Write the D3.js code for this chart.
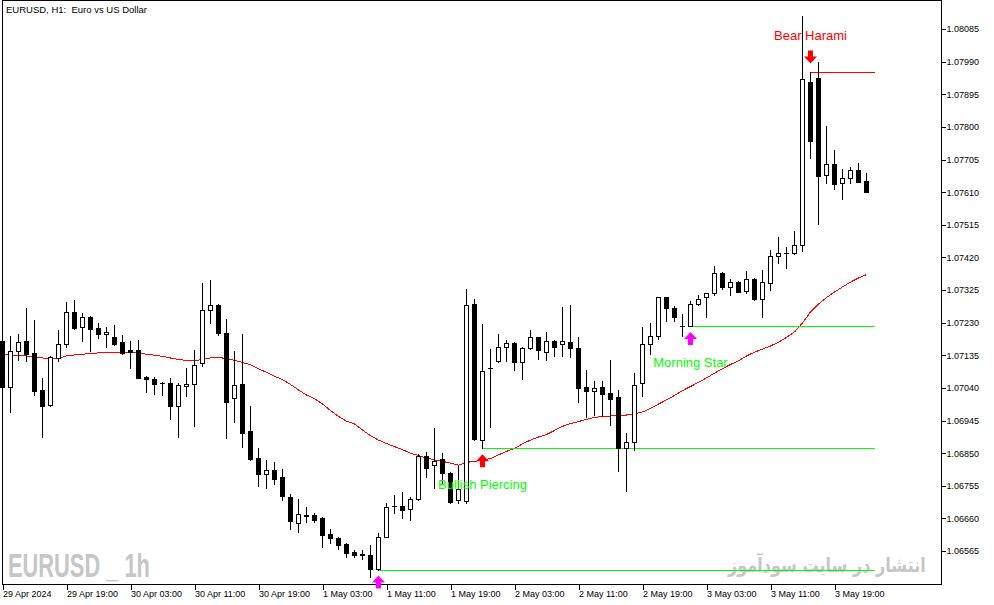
<!DOCTYPE html>
<html>
<meta charset="utf-8">
<style>
body {
  margin: 0;
  background-color: #ffffff;
}
svg { display: block; }

.axis text {
  font: 9px "Liberation Sans", Arial, sans-serif;
  fill: #000;
}
.axis line {
  stroke: #000;
  shape-rendering: crispEdges;
}
.axis path.domain { display: none; }

.frame {
  fill: none;
  stroke: #000;
  shape-rendering: crispEdges;
}

.wick, .body {
  stroke: #000;
  stroke-width: 1px;
  shape-rendering: crispEdges;
}

.ma {
  fill: none;
  stroke: #ff0000;
  stroke-width: 1px;
  shape-rendering: crispEdges;
}

.level { stroke-width: 1px; shape-rendering: crispEdges; }

.pattern-label { font: 13px "Liberation Sans", Arial, sans-serif; }
</style>
<body>
<script src="https://d3js.org/d3.v7.min.js"></script>
<script>

// EURUSD H1 candles, 29 Apr 11:00 .. 3 May 23:00
var openPrices = [
  1.07176, 1.07043, 1.07146, 1.07176, 1.07141, 1.07034, 1.06990, 1.07127, 1.07167, 1.07261,
  1.07216, 1.07246, 1.07214, 1.07196, 1.07188, 1.07173, 1.07150, 1.07150, 1.07072, 1.07067,
  1.07054, 1.07054, 1.06988, 1.07045, 1.07050, 1.07111, 1.07266, 1.07281, 1.07201, 1.07010,
  1.07051, 1.06914, 1.06835, 1.06789, 1.06801, 1.06780, 1.06721, 1.06647, 1.06668, 1.06670,
  1.06661, 1.06614, 1.06604, 1.06585, 1.06563, 1.06556, 1.06553, 1.06512, 1.06607, 1.06696,
  1.06696, 1.06686, 1.06715, 1.06842, 1.06815, 1.06832, 1.06793, 1.06713, 1.06710, 1.07284,
  1.06888, 1.07097, 1.07117, 1.07158, 1.07171, 1.07114, 1.07155, 1.07187, 1.07145, 1.07176,
  1.07167, 1.07173, 1.07155, 1.07042, 1.07031, 1.07042, 1.07024, 1.07013, 1.06864, 1.06882,
  1.07053, 1.07167, 1.07192, 1.07304, 1.07272, 1.07221, 1.07221, 1.07283, 1.07304, 1.07315,
  1.07374, 1.07333, 1.07347, 1.07323, 1.07356, 1.07298, 1.07345, 1.07424, 1.07432, 1.07432,
  1.07456, 1.07930, 1.07941, 1.07660, 1.07691, 1.07636, 1.07650, 1.07674, 1.07642
];

var highPrices = [
  1.07182, 1.07191, 1.07197, 1.07273, 1.07238, 1.07070, 1.07132, 1.07209, 1.07290, 1.07296,
  1.07257, 1.07248, 1.07230, 1.07218, 1.07223, 1.07194, 1.07177, 1.07179, 1.07074, 1.07071,
  1.07058, 1.07070, 1.07053, 1.07099, 1.07149, 1.07345, 1.07354, 1.07283, 1.07240, 1.07148,
  1.07197, 1.06987, 1.06866, 1.06830, 1.06824, 1.06804, 1.06731, 1.06716, 1.06692, 1.06675,
  1.06663, 1.06629, 1.06606, 1.06587, 1.06568, 1.06568, 1.06582, 1.06617, 1.06704, 1.06728,
  1.06738, 1.06723, 1.06847, 1.06852, 1.06924, 1.06851, 1.06795, 1.06815, 1.07328, 1.07299,
  1.07226, 1.07153, 1.07197, 1.07179, 1.07173, 1.07160, 1.07209, 1.07189, 1.07203, 1.07179,
  1.07276, 1.07281, 1.07189, 1.07092, 1.07060, 1.07060, 1.07121, 1.07034, 1.06908, 1.07082,
  1.07218, 1.07228, 1.07306, 1.07306, 1.07278, 1.07255, 1.07293, 1.07309, 1.07317, 1.07395,
  1.07376, 1.07356, 1.07351, 1.07380, 1.07359, 1.07383, 1.07441, 1.07478, 1.07451, 1.07498,
  1.08123, 1.07961, 1.07990, 1.07802, 1.07733, 1.07676, 1.07684, 1.07694, 1.07667
];

var lowPrices = [
  1.07037, 1.06971, 1.07121, 1.07119, 1.07019, 1.06898, 1.06988, 1.07119, 1.07160, 1.07211,
  1.07177, 1.07148, 1.07186, 1.07160, 1.07165, 1.07140, 1.07099, 1.07069, 1.07029, 1.07023,
  1.07019, 1.06950, 1.06898, 1.07017, 1.06930, 1.07104, 1.07228, 1.07193, 1.06895, 1.06941,
  1.06869, 1.06830, 1.06755, 1.06749, 1.06759, 1.06713, 1.06628, 1.06621, 1.06650, 1.06650,
  1.06577, 1.06587, 1.06570, 1.06548, 1.06547, 1.06543, 1.06490, 1.06511, 1.06605, 1.06675,
  1.06660, 1.06655, 1.06713, 1.06781, 1.06747, 1.06764, 1.06705, 1.06705, 1.06704, 1.06889,
  1.06864, 1.06927, 1.07115, 1.07118, 1.07092, 1.07066, 1.07153, 1.07124, 1.07121, 1.07133,
  1.07134, 1.07131, 1.06999, 1.06956, 1.06960, 1.06958, 1.06933, 1.06799, 1.06741, 1.06859,
  1.07017, 1.07138, 1.07181, 1.07236, 1.07236, 1.07191, 1.07220, 1.07280, 1.07246, 1.07310,
  1.07327, 1.07310, 1.07318, 1.07317, 1.07296, 1.07246, 1.07325, 1.07403, 1.07388, 1.07430,
  1.07439, 1.07709, 1.07516, 1.07637, 1.07618, 1.07590, 1.07637, 1.07639, 1.07610
];

var closePrices = [
  1.07043, 1.07147, 1.07173, 1.07139, 1.07032, 1.06988, 1.07129, 1.07168, 1.07261, 1.07215,
  1.07246, 1.07212, 1.07198, 1.07203, 1.07167, 1.07142, 1.07144, 1.07070, 1.07065, 1.07052,
  1.07053, 1.06988, 1.07048, 1.07050, 1.07106, 1.07266, 1.07281, 1.07201, 1.06999, 1.07048,
  1.06909, 1.06832, 1.06788, 1.06800, 1.06775, 1.06726, 1.06653, 1.06672, 1.06669, 1.06655,
  1.06612, 1.06604, 1.06582, 1.06560, 1.06553, 1.06552, 1.06513, 1.06607, 1.06692, 1.06697,
  1.06684, 1.06715, 1.06842, 1.06807, 1.06828, 1.06791, 1.06708, 1.06745, 1.07281, 1.06891,
  1.07089, 1.07098, 1.07158, 1.07170, 1.07116, 1.07155, 1.07187, 1.07150, 1.07176, 1.07160,
  1.07176, 1.07155, 1.07040, 1.07032, 1.07039, 1.07021, 1.07009, 1.06864, 1.06882, 1.07048,
  1.07167, 1.07192, 1.07304, 1.07272, 1.07246, 1.07220, 1.07283, 1.07298, 1.07315, 1.07374,
  1.07333, 1.07347, 1.07320, 1.07356, 1.07298, 1.07347, 1.07425, 1.07432, 1.07433, 1.07457,
  1.07939, 1.07760, 1.07658, 1.07691, 1.07634, 1.07650, 1.07674, 1.07640, 1.07611
];

// moving average (red line), one value per candle
var maValues = [
  1.07138, 1.07136, 1.07134, 1.07133, 1.07131, 1.07127, 1.07126, 1.07126, 1.07133, 1.07136,
  1.07138, 1.07140, 1.07142, 1.07144, 1.07144, 1.07144, 1.07143, 1.07141, 1.07138, 1.07135,
  1.07132, 1.07127, 1.07123, 1.07120, 1.07119, 1.07123, 1.07127, 1.07129, 1.07125, 1.07120,
  1.07114, 1.07107, 1.07096, 1.07085, 1.07074, 1.07064, 1.07050, 1.07034, 1.07019, 1.07009,
  1.06993, 1.06974, 1.06957, 1.06943, 1.06935, 1.06917, 1.06901, 1.06888, 1.06878, 1.06869,
  1.06860, 1.06850, 1.06843, 1.06836, 1.06830, 1.06826, 1.06821, 1.06815, 1.06823, 1.06826,
  1.06830, 1.06834, 1.06845, 1.06855, 1.06864, 1.06877, 1.06888, 1.06897, 1.06904, 1.06916,
  1.06928, 1.06936, 1.06942, 1.06948, 1.06954, 1.06957, 1.06958, 1.06960, 1.06961, 1.06964,
  1.06970, 1.06980, 1.06993, 1.07005, 1.07018, 1.07032, 1.07044, 1.07056, 1.07069, 1.07083,
  1.07096, 1.07108, 1.07119, 1.07133, 1.07144, 1.07153, 1.07162, 1.07173, 1.07187, 1.07203,
  1.07229, 1.07261, 1.07284, 1.07303, 1.07319, 1.07334, 1.07348, 1.07360, 1.07370
];

// candle patterns: candle index, level line price, label
var patternIndex = [47, 60, 86, 101];
var patternLevel = [1.06511, 1.06864, 1.07220, 1.07961];
var patternName  = ["", "Bullish Piercing", "Morning Star", "Bear Harami"];
var patternBull  = [true, true, true, false];

// axis ticks
var priceTicks = [1.06565, 1.06660, 1.06755, 1.06850, 1.06945, 1.07040, 1.07135, 1.07230,
  1.07325, 1.07420, 1.07515, 1.07610, 1.07705, 1.07800, 1.07895, 1.07990, 1.08085];
var timeTickLabels = ["29 Apr 2024", "29 Apr 19:00", "30 Apr 03:00", "30 Apr 11:00",
  "30 Apr 19:00", "1 May 03:00", "1 May 11:00", "1 May 19:00", "2 May 03:00",
  "2 May 11:00", "2 May 19:00", "3 May 03:00", "3 May 11:00", "3 May 19:00"];

var width = 994, height = 605;

var start = new Date(Date.UTC(2024, 3, 29, 11));
var stop = new Date(Date.UTC(2024, 4, 4, 0));
var times = d3.utcHour.range(start, stop);
var timeTicks = d3.utcHour.range(start, stop, 8);

var data = times.map(function(t, i) {
  return {t: t, o: openPrices[i], h: highPrices[i], l: lowPrices[i], c: closePrices[i], ma: maValues[i]};
});

var x = d3.scaleUtc()
    .domain([times[0], times[times.length - 1]])
    .range([2.5, 866.5]);

var y = d3.scaleLinear()
    .domain([1.06565, 1.08085])
    .range([551, 29]);

var svg = d3.select("body")
  .append("svg")
    .attr("width", width)
    .attr("height", height);

svg.append("rect")
    .attr("width", width)
    .attr("height", height)
    .attr("fill", "#fff");

// squeeze a text horizontally so it fills [left, left + w]
function fitWidth(sel, left, w) {
  var len = sel.node().getComputedTextLength();
  sel.attr("x", 0)
     .attr("transform", "translate(" + left + "," + sel.attr("data-y") + ") scale(" + (w / len) + ",1)");
}

// watermarks
var wm1 = svg.append("text")
    .attr("data-y", 577)
    .style("font", "bold 33px 'Liberation Sans Narrow', 'Liberation Sans', Arial, sans-serif")
    .style("white-space", "pre")
    .attr("fill", "#c6c6c6")
    .text("EURUSD _ 1h");
fitWidth(wm1, 8, 142);

var wm2 = svg.append("text")
    .attr("data-y", 572)
    .style("font", "bold 20px 'DejaVu Sans', sans-serif")
    .attr("fill", "#c6c6c6")
    .text("انتشار در سایت سودآموز");
fitWidth(wm2, 728, 198);

// frame
svg.append("rect")
    .attr("class", "frame")
    .attr("x", 2.5)
    .attr("y", 0.5)
    .attr("width", 939)
    .attr("height", 584);

// title
svg.append("text")
    .attr("x", 6)
    .attr("y", 13)
    .style("font", "9.5px 'Liberation Sans', Arial, sans-serif")
    .style("white-space", "pre")
    .text("EURUSD, H1:  Euro vs US Dollar");

// axes
var xAxis = d3.axisBottom(x)
    .tickValues(timeTicks)
    .tickSize(5)
    .tickSizeOuter(0)
    .tickFormat(function(d, i) { return timeTickLabels[i]; });

var gx = svg.append("g")
    .attr("class", "axis x-axis")
    .attr("transform", "translate(0,584.5)")
    .call(xAxis);
gx.selectAll("text")
    .attr("text-anchor", "start")
    .attr("x", 0)
    .attr("y", 6);

var yAxis = d3.axisRight(y)
    .tickValues(priceTicks)
    .tickSize(4)
    .tickSizeOuter(0)
    .tickFormat(d3.format(".5f"));

var gy = svg.append("g")
    .attr("class", "axis y-axis")
    .attr("transform", "translate(941.5,0)")
    .call(yAxis);
gy.selectAll("text").attr("x", 5);

// moving average
var maLine = d3.line()
    .x(function(d) { return x(d.t); })
    .y(function(d) { return y(d.ma); });

svg.append("path")
    .datum(data)
    .attr("class", "ma")
    .attr("d", maLine);

// pattern level lines
var lineEnd = x(d3.utcHour.offset(times[times.length - 1], 1));
patternIndex.forEach(function(k, i) {
  var ly = Math.round(y(patternLevel[i])) + 0.5;
  svg.append("line")
      .attr("class", "level")
      .attr("x1", x(times[k]))
      .attr("x2", lineEnd)
      .attr("y1", ly)
      .attr("y2", ly)
      .attr("stroke", patternBull[i] ? "#00ff00" : "#ff0000");
});

// candles
var candles = svg.append("g").attr("class", "candles");

candles.selectAll("line.wick")
    .data(data)
  .enter().append("line")
    .attr("class", "wick")
    .attr("x1", function(d) { return x(d.t); })
    .attr("x2", function(d) { return x(d.t); })
    .attr("y1", function(d) { return Math.round(y(d.h)); })
    .attr("y2", function(d) { return Math.round(y(d.l)) + 1; });

candles.selectAll("rect.body")
    .data(data)
  .enter().append("rect")
    .attr("class", "body")
    .attr("x", function(d) { return x(d.t) - 2; })
    .attr("y", function(d) { return Math.round(y(Math.max(d.o, d.c))) + 0.5; })
    .attr("width", 4)
    .attr("height", function(d) {
      return Math.max(0.01, Math.round(y(Math.min(d.o, d.c))) - Math.round(y(Math.max(d.o, d.c))));
    })
    .attr("fill", function(d) { return d.c >= d.o ? "#ffffff" : "#000000"; });

// pattern arrows and labels
function arrowPath(cx, tip, up) {
  var s = up ? 1 : -1;
  return "M" + cx + "," + tip +
    "l6.5," + (7 * s) + "h-4v" + (6 * s) + "h-5v" + (-6 * s) + "h-4z";
}

patternIndex.forEach(function(k, i) {
  var cx = x(times[k]);
  var bull = patternBull[i];
  var tip = bull ? y(lowPrices[k]) + 6 : y(highPrices[k]) - 8;
  svg.append("path")
      .attr("d", arrowPath(cx, tip, bull))
      .attr("fill", (i === 0 || i === 2) ? "#ff00ff" : "#ff0000");
  if (patternName[i]) {
    svg.append("text")
        .attr("class", "pattern-label")
        .attr("x", cx)
        .attr("y", bull ? y(patternLevel[i]) + 41 : y(patternLevel[i]) - 32)
        .attr("text-anchor", "middle")
        .attr("fill", bull ? "#00ff00" : "#ff0000")
        .text(patternName[i]);
  }
});

</script>
</body>
</html>
